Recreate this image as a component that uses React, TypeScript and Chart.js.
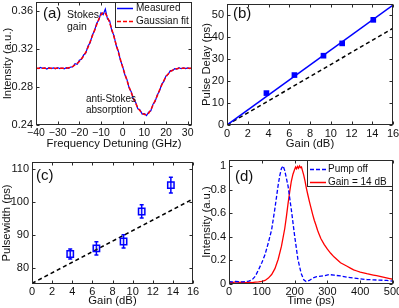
import React, { useEffect, useRef } from 'react';
import { Chart, registerables } from 'chart.js';
Chart.register(...registerables);

const FONT = "'Liberation Sans', Arial, Helvetica, sans-serif";
const BLUE = '#0000ff';
const RED = '#ff0000';
const INK = '#111111';

// ---------- Panel (a) ----------
const freqA = [-40, -39, -38, -37, -36, -35, -34, -33, -32, -31, -30, -29, -28, -27, -26, -25, -24, -23, -22, -21, -20, -19, -18, -17, -16, -15, -14, -13, -12, -11, -10, -9, -8, -7, -6, -5, -4, -3, -2, -1, 0, 1, 2, 3, 4, 5, 6, 7, 8, 9, 10, 11, 12, 13, 14, 15, 16, 17, 18, 19, 20, 21, 22, 23, 24, 25, 26, 27, 28, 29, 30, 31, 32];
const measuredA = [0.3000, 0.2995, 0.3008, 0.2998, 0.3003, 0.2992, 0.3006, 0.2997, 0.3004, 0.2994, 0.3007, 0.2996, 0.3002, 0.2993, 0.3005, 0.2998,
  0.3012, 0.3015, 0.3048, 0.3042, 0.3085, 0.3095, 0.3140, 0.3162, 0.3235, 0.3270, 0.3352, 0.3395, 0.3475, 0.3510, 0.3585, 0.3565, 0.3625, 0.3520, 0.3500, 0.3395, 0.3345, 0.3240, 0.3180, 0.3080,
  0.3020, 0.2930, 0.2880, 0.2790, 0.2750, 0.2670, 0.2640, 0.2570, 0.2560, 0.2515, 0.2520, 0.2500, 0.2535, 0.2550, 0.2620, 0.2650, 0.2720, 0.2760, 0.2830, 0.2860, 0.2920, 0.2935, 0.2975, 0.2975, 0.2995, 0.2990,
  0.3005, 0.2995, 0.3003, 0.2997, 0.3004, 0.2996, 0.3002];
const fitA = [0.300, 0.300, 0.300, 0.300, 0.300, 0.300, 0.300, 0.300, 0.300, 0.300, 0.300, 0.300, 0.300, 0.300, 0.300,
  0.3005, 0.301, 0.302, 0.3035, 0.305, 0.307, 0.310, 0.313, 0.317, 0.322, 0.328, 0.334, 0.340, 0.346, 0.352, 0.3565, 0.359, 0.358, 0.354, 0.348, 0.341, 0.333, 0.325, 0.317, 0.309,
  0.301, 0.294, 0.287, 0.280, 0.274, 0.268, 0.263, 0.258, 0.255, 0.2525, 0.251, 0.251, 0.2525, 0.256, 0.261, 0.266, 0.271, 0.277, 0.282, 0.287, 0.291, 0.294, 0.2965, 0.298, 0.299, 0.2995,
  0.300, 0.300, 0.300, 0.300, 0.300, 0.300, 0.300];
const freqTicksA = [-40, -30, -20, -10, 0, 10, 20, 30];
const freqLabelsA = ['\u221240', '\u221230', '\u221220', '\u221210', '0', '10', '20', '30'];
const intTicksA = [0.24, 0.28, 0.32, 0.36];
const intLabelsA = ['0.24', '0.28', '0.32', '0.36'];

// ---------- Panel (b) ----------
const gainB = [3.8, 6.5, 9.3, 11.1, 14.1];
const delayB = [14.5, 22.7, 31.5, 37.1, 47.8];
const lineGainB = [0, 16];
const fitDelayB = [0, 54.5];
const theoryDelayB = [0, 44];
const gainTicks = [0, 2, 4, 6, 8, 10, 12, 14, 16];
const gainLabels = ['0', '2', '4', '6', '8', '10', '12', '14', '16'];
const delayTicks = [0, 10, 20, 30, 40, 50];
const delayLabels = ['0', '10', '20', '30', '40', '50'];

// ---------- Panel (c) ----------
const gainC = [3.8, 6.4, 9.1, 10.9, 13.8];
const widthC = [84.1, 85.8, 87.9, 97.0, 105.0];
const errC = [1.5, 2.0, 2.0, 2.0, 2.4];
const lineGainC = [0, 16];
const theoryWidthC = [75.2, 100.8];
const widthTicks = [80, 90, 100, 110];
const widthLabels = ['80', '90', '100', '110'];

// ---------- Panel (d) ----------
const timeOff = [0, 10, 20, 30, 40, 50, 60, 70, 80, 90, 100, 110, 120, 130, 135, 140, 150, 155, 160, 165, 170, 180, 190, 200, 210, 220, 228, 235, 245, 255, 265, 275, 290, 305, 320, 340, 360, 380, 400, 420, 440, 460, 480, 500];
const intOff = [0.02, 0.018, 0.022, 0.02, 0.018, 0.02, 0.025, 0.035, 0.065, 0.12, 0.18, 0.25, 0.35, 0.46, 0.55, 0.64, 0.84, 0.92, 0.98, 1.0, 0.96, 0.83, 0.63, 0.41, 0.21, 0.09, 0.035, 0.02, 0.03, 0.05, 0.06, 0.065, 0.07, 0.08, 0.075, 0.068, 0.058, 0.05, 0.043, 0.038, 0.035, 0.033, 0.03, 0.025];
const timeGain = [0, 10, 20, 30, 40, 50, 60, 70, 80, 90, 100, 110, 120, 130, 140, 150, 160, 170, 175, 180, 185, 190, 195, 200, 203, 206, 209, 212, 215, 218, 221, 224, 228, 232, 236, 240, 245, 250, 255, 260, 265, 270, 275, 280, 290, 300, 310, 320, 330, 340, 350, 360, 370, 380, 390, 400, 410, 420, 430, 440, 450, 460, 470, 480, 490, 500];
const intGain = [0.015, 0.012, 0.018, 0.013, 0.016, 0.011, 0.015, 0.012, 0.016, 0.018, 0.022, 0.03, 0.05, 0.08, 0.13, 0.21, 0.32, 0.47, 0.57, 0.68, 0.78, 0.87, 0.93, 0.97, 0.99, 0.975, 0.995, 0.98, 1.0, 0.985, 0.99, 0.96, 0.92, 0.87, 0.81, 0.76, 0.70, 0.645, 0.59, 0.54, 0.50, 0.455, 0.42, 0.385, 0.335, 0.295, 0.26, 0.23, 0.205, 0.18, 0.165, 0.15, 0.135, 0.12, 0.11, 0.10, 0.095, 0.088, 0.082, 0.076, 0.07, 0.064, 0.058, 0.052, 0.046, 0.04];
const timeTicks = [0, 100, 200, 300, 400, 500];
const timeLabels = ['0', '100', '200', '300', '400', '500'];
const intTicksD = [0, 0.2, 0.4, 0.6, 0.8, 1];
const intLabelsD = ['0', '0.2', '0.4', '0.6', '0.8', '1'];

const zip = (xs: number[], ys: number[]) => xs.map((x, i) => ({ x, y: ys[i] }));

type AxisSpec = { min: number; max: number; ticks: number[]; labels: string[]; title: string; size: number; tickPad: number; titlePad: number; tickFont?: number };
type Panel = {
  left: number; top: number; width: number; height: number;
  padTop: number; padRight: number;
  x: AxisSpec; y: AxisSpec;
  datasets: any[];
  under?: (c: Chart) => void;
  over?: (c: Chart) => void;
};

function axisOpts(spec: AxisSpec, horizontal: boolean) {
  return {
    type: 'linear',
    min: spec.min,
    max: spec.max,
    afterBuildTicks: (s: any) => { s.ticks = spec.ticks.map((v) => ({ value: v })); },
    ticks: {
      autoSkip: false, maxRotation: 0, minRotation: 0, padding: spec.tickPad,
      font: { family: FONT, size: spec.tickFont ?? 11 }, color: INK,
      callback: (_v: any, i: number) => spec.labels[i] ?? '',
    },
    grid: { display: false, drawTicks: false },
    border: { display: false },
    title: {
      display: true, text: spec.title, color: INK,
      font: { family: FONT, size: 11.3 },
      padding: horizontal ? { top: 0, bottom: spec.titlePad } : { top: spec.titlePad, bottom: 0 },
    },
    afterFit: (s: any) => {
      if (horizontal) s.height = spec.size; else s.width = spec.size;
      s.paddingLeft = 0; s.paddingRight = 0; s.paddingTop = 0; s.paddingBottom = 0;
    },
  };
}

function drawFrame(chart: Chart, xs: number[], ys: number[]) {
  const { ctx, chartArea: a } = chart;
  const sx: any = chart.scales.x;
  const sy: any = chart.scales.y;
  const L = Math.round(a.left) + 0.5, R = Math.round(a.right) - 0.5;
  const T = Math.round(a.top) + 0.5, B = Math.round(a.bottom) - 0.5;
  ctx.save();
  ctx.strokeStyle = '#2a2a2a';
  ctx.lineWidth = 1;
  ctx.setLineDash([]);
  ctx.strokeRect(L, T, R - L, B - T);
  ctx.beginPath();
  const tl = 3;
  xs.forEach((v) => {
    const p = Math.round(sx.getPixelForValue(v)) + 0.5;
    ctx.moveTo(p, B); ctx.lineTo(p, B - tl);
    ctx.moveTo(p, T); ctx.lineTo(p, T + tl);
  });
  ys.forEach((v) => {
    const p = Math.round(sy.getPixelForValue(v)) + 0.5;
    ctx.moveTo(L, p); ctx.lineTo(L + tl, p);
    ctx.moveTo(R, p); ctx.lineTo(R - tl, p);
  });
  ctx.stroke();
  ctx.restore();
}

function drawText(ctx: CanvasRenderingContext2D, text: string, x: number, y: number, size: number) {
  ctx.save();
  ctx.font = `${size}px ${FONT}`;
  ctx.fillStyle = INK;
  ctx.textAlign = 'left';
  ctx.textBaseline = 'middle';
  ctx.fillText(text, x, y);
  ctx.restore();
}

type LegendEntry = { label: string; color: string; dash: number[]; y: number };
function drawLegend(ctx: CanvasRenderingContext2D, box: { l: number; t: number; r: number; b: number }, lineX0: number, lineX1: number, textX: number, entries: LegendEntry[]) {
  ctx.save();
  ctx.fillStyle = '#ffffff';
  ctx.fillRect(box.l, box.t, box.r - box.l, box.b - box.t);
  ctx.strokeStyle = '#2a2a2a';
  ctx.lineWidth = 1;
  ctx.strokeRect(box.l + 0.5, box.t + 0.5, box.r - box.l - 1, box.b - box.t - 1);
  entries.forEach((e) => {
    ctx.beginPath();
    ctx.strokeStyle = e.color;
    ctx.lineWidth = 1.5;
    ctx.setLineDash(e.dash);
    ctx.moveTo(lineX0, e.y + 0.5);
    ctx.lineTo(lineX1, e.y + 0.5);
    ctx.stroke();
    ctx.setLineDash([]);
    ctx.font = `10px ${FONT}`;
    ctx.fillStyle = INK;
    ctx.textBaseline = 'middle';
    ctx.fillText(e.label, textX, e.y + 0.5);
  });
  ctx.restore();
}

const lineDs = (data: any[], color: string, width: number, dash: number[], order: number) => ({
  data, showLine: true, borderColor: color, borderWidth: width, borderDash: dash,
  pointRadius: 0, fill: false, tension: 0, order,
});

const panels: Panel[] = [
  {
    left: 0, top: 0, width: 199, height: 154, padTop: 2, padRight: 7,
    x: { min: -40, max: 32, ticks: freqTicksA, labels: freqLabelsA, title: 'Frequency Detuning (GHz)', size: 29, tickPad: 2, titlePad: 3, tickFont: 10.5 },
    y: { min: 0.24, max: 0.37, ticks: intTicksA, labels: intLabelsA, title: 'Intensity (a.u.)', size: 36, tickPad: 3, titlePad: 1 },
    datasets: [
      lineDs(zip(freqA, fitA), RED, 1.5, [4, 2], 0),
      lineDs(zip(freqA, measuredA), BLUE, 1.2, [], 1),
    ],
    over: (c) => {
      const ctx = c.ctx;
      drawText(ctx, '(a)', 43, 14, 15);
      drawText(ctx, 'Stokes', 67, 15, 10.5);
      drawText(ctx, 'gain', 67, 27, 10.5);
      drawText(ctx, 'anti-Stokes', 86, 99, 10);
      drawText(ctx, 'absorption', 86, 110, 10);
      drawLegend(ctx, { l: 115, t: 2, r: 192, b: 28 }, 117, 133, 136, [
        { label: 'Measured', color: BLUE, dash: [], y: 8 },
        { label: 'Gaussian fit', color: RED, dash: [4, 2], y: 21 },
      ]);
    },
  },
  {
    left: 200, top: 0, width: 199, height: 154, padTop: 2, padRight: 6,
    x: { min: 0, max: 16, ticks: gainTicks, labels: gainLabels, title: 'Gain (dB)', size: 29, tickPad: 2, titlePad: 3 },
    y: { min: 0, max: 55, ticks: delayTicks, labels: delayLabels, title: 'Pulse Delay (ps)', size: 27, tickPad: 3, titlePad: 0 },
    datasets: [
      { data: zip(gainB, delayB), showLine: false, pointStyle: 'rect', pointRadius: 4, backgroundColor: BLUE, borderColor: BLUE, borderWidth: 0, order: 0 },
      lineDs(zip(lineGainB, fitDelayB), BLUE, 1.5, [], 1),
      lineDs(zip(lineGainB, theoryDelayB), '#000000', 1.5, [4, 3], 2),
    ],
    over: (c) => { drawText(c.ctx, '(b)', 33, 14, 15); },
  },
  {
    left: 0, top: 154, width: 199, height: 154, padTop: 8, padRight: 6,
    x: { min: 0, max: 16, ticks: gainTicks, labels: gainLabels, title: 'Gain (dB)', size: 24, tickPad: 1, titlePad: 0 },
    y: { min: 75, max: 112, ticks: widthTicks, labels: widthLabels, title: 'Pulsewidth (ps)', size: 32, tickPad: 3, titlePad: 0 },
    datasets: [
      { data: zip(gainC, widthC), showLine: false, pointStyle: 'rect', pointRadius: 4.5, backgroundColor: 'rgba(120,120,255,0.15)', borderColor: BLUE, borderWidth: 1.5, order: 0 },
      lineDs(zip(lineGainC, theoryWidthC), '#000000', 1.5, [4, 3], 1),
    ],
    under: (c) => {
      const ctx = c.ctx;
      const sx: any = c.scales.x, sy: any = c.scales.y;
      ctx.save();
      ctx.strokeStyle = BLUE;
      ctx.lineWidth = 1.5;
      ctx.beginPath();
      gainC.forEach((g, i) => {
        const px = sx.getPixelForValue(g);
        const y0 = sy.getPixelForValue(widthC[i] - errC[i]);
        const y1 = sy.getPixelForValue(widthC[i] + errC[i]);
        ctx.moveTo(px, y0); ctx.lineTo(px, y1);
        ctx.moveTo(px - 2, y0); ctx.lineTo(px + 2, y0);
        ctx.moveTo(px - 2, y1); ctx.lineTo(px + 2, y1);
      });
      ctx.stroke();
      ctx.restore();
    },
    over: (c) => { drawText(c.ctx, '(c)', 36, 22, 15); },
  },
  {
    left: 200, top: 154, width: 199, height: 154, padTop: 6, padRight: 6,
    x: { min: 0, max: 500, ticks: timeTicks, labels: timeLabels, title: 'Time (ps)', size: 24, tickPad: 1, titlePad: 0 },
    y: { min: 0, max: 1.05, ticks: intTicksD, labels: intLabelsD, title: 'Intensity (a.u.)', size: 29, tickPad: 3, titlePad: 0 },
    datasets: [
      lineDs(zip(timeOff, intOff), BLUE, 1.3, [4, 2], 0),
      lineDs(zip(timeGain, intGain), RED, 1.3, [], 1),
    ],
    over: (c) => {
      const ctx = c.ctx;
      drawText(ctx, '(d)', 35, 23, 15);
      drawLegend(ctx, { l: 107, t: 6, r: 193, b: 33 }, 110, 126, 128, [
        { label: 'Pump off', color: BLUE, dash: [4, 2], y: 15 },
        { label: 'Gain = 14 dB', color: RED, dash: [], y: 28 },
      ]);
    },
  },
];

function PanelChart({ p }: { p: Panel }) {
  const ref = useRef<HTMLCanvasElement | null>(null);
  useEffect(() => {
    if (!ref.current) return;
    const chart = new Chart(ref.current, {
      type: 'scatter',
      data: { datasets: p.datasets },
      options: {
        responsive: false,
        animation: false,
        devicePixelRatio: 1,
        events: [],
        layout: { padding: { left: 0, top: p.padTop, right: p.padRight, bottom: 0 } },
        plugins: { legend: { display: false }, tooltip: { enabled: false } },
        scales: { x: axisOpts(p.x, true) as any, y: axisOpts(p.y, false) as any },
      },
      plugins: [{
        id: 'matlabDecor',
        beforeDatasetsDraw: (c: Chart) => { p.under?.(c); },
        afterDraw: (c: Chart) => { drawFrame(c, p.x.ticks, p.y.ticks); p.over?.(c); },
      }],
    } as any);
    return () => chart.destroy();
  }, [p]);
  return (
    <canvas
      ref={ref}
      width={p.width}
      height={p.height}
      style={{ position: 'absolute', left: p.left, top: p.top, width: p.width, height: p.height }}
    />
  );
}

export default function App() {
  return (
    <div style={{ position: 'fixed', left: 0, top: 0, width: 399, height: 308, background: '#ffffff', overflow: 'hidden' }}>
      {panels.map((p, i) => <PanelChart key={i} p={p} />)}
    </div>
  );
}
